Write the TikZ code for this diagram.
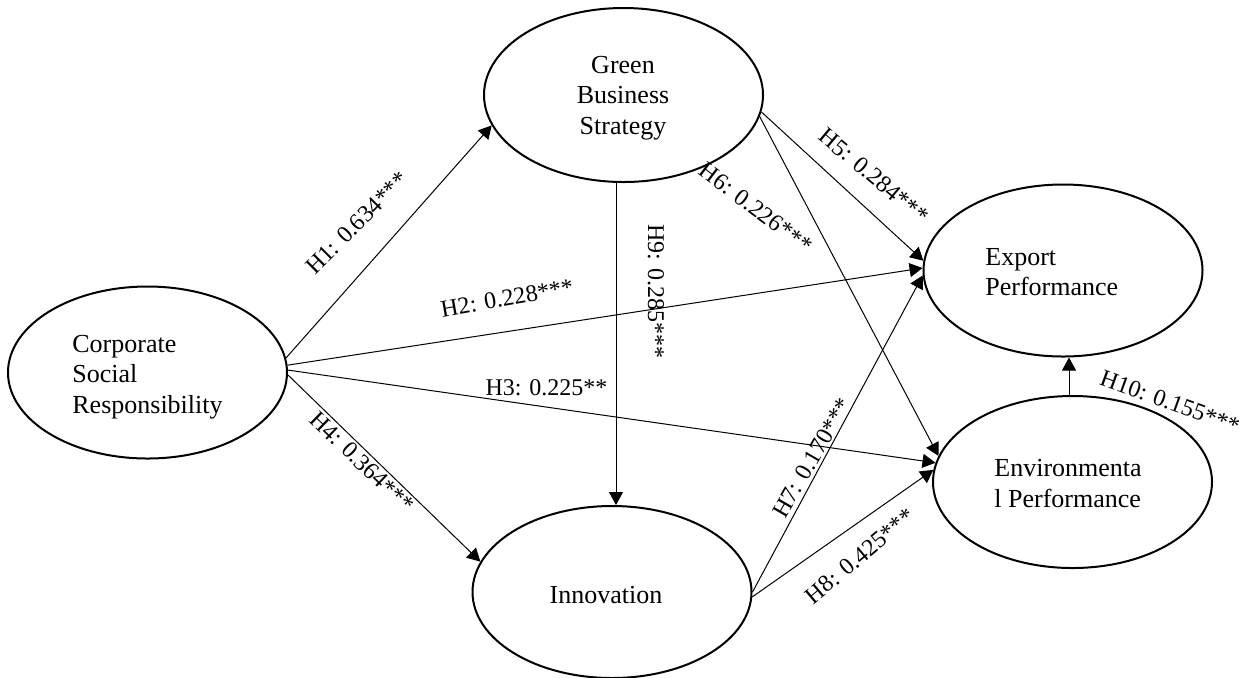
\documentclass[tikz,border=0pt]{standalone}
\usepackage{fontspec}
\setmainfont{Liberation Serif}
\usetikzlibrary{shapes.geometric, arrows.meta}
\begin{document}
\begin{tikzpicture}[x=0.5pt, y=-0.5pt,
  latent/.style={draw, line width=1pt, ellipse, minimum width=139.5pt, minimum height=86pt, inner sep=0pt},
  ntext/.style={font=\fontsize{13}{15.25}\selectfont, inner sep=0pt},
  lab/.style={font=\fontsize{12}{14}\selectfont, inner sep=0pt},
  arr/.style={line width=0.5pt, -{Triangle[length=6.5pt,width=7pt]}}
]
\useasboundingbox (0,0) rectangle (1247,677);

% constructs
\node[latent] (csr) at (147.5,372.5) {};
\node[latent, minimum height=87pt] (gbs) at (623.5,95) {};
\node[latent] (exp) at (1063,270.5) {};
\node[latent] (env) at (1072.5,482) {};
\node[latent] (inn) at (612,592) {};

% construct texts
\node[ntext, anchor=north west, align=left] (csrt) at (72,334.8) {Corporate\\Social\\Responsibility};
\node[ntext, anchor=north, align=center] (gbst) at (623,55.5) {Green\\Business\\Strategy};
\node[ntext, anchor=north west, align=left] (expt) at (985,247.8) {Export\\Performance};
\node[ntext, anchor=north west, align=left] (envt) at (994,459.2) {Environmenta\\l Performance};
\node[ntext, anchor=base] (innt) at (606,603) {Innovation};

% paths
\draw[arr] (csr.6) -- (gbs.193.7);
\draw[arr] (csr.3.9) -- (exp.179);
\draw[arr] (csr.1.8) -- (env.172.2);
\draw[arr] (csr.-1.4) -- (inn.167.5);
\draw[arr] (gbs.-7.1) -- (exp.176.5);
\draw[arr] (gbs.-9.7) -- (env.169.4);
\draw[arr] ([xshift=-3.75pt]gbs.south) -- ([xshift=-3.75pt]gbs.south |- inn.north);
\draw[arr] (inn.0.8) -- (exp.182.2);
\draw[arr] (inn.-2) -- (env.175.1);
\draw[arr] ([xshift=-1.75pt]env.north) -- ([xshift=-1.75pt]env.north |- exp.south);

% labels
\node[lab, rotate=45] (l1) at (357,223) {H1: 0.634***};
\node[lab, rotate=10] (l2) at (507,298) {H2: 0.228***};
\node[lab, anchor=base] (l3) at (546.5,395) {H3: 0.225**};
\node[lab, rotate=-44] (l4) at (362,462) {H4: 0.364***};
\node[lab, rotate=-90] (l9) at (656,291) {H9: 0.285***};
\node[lab, rotate=-40] (l5) at (874,176) {H5: 0.284***};
\node[lab, rotate=-37] (l6) at (756,208) {H6: 0.226***};
\node[lab, rotate=60] (l7) at (812,458) {H7: 0.170***};
\node[lab, rotate=40] (l8) at (860,556) {H8: 0.425***};
\node[lab, rotate=-20] (l10) at (1170,402) {H10: 0.155***};
\end{tikzpicture}
\end{document}
